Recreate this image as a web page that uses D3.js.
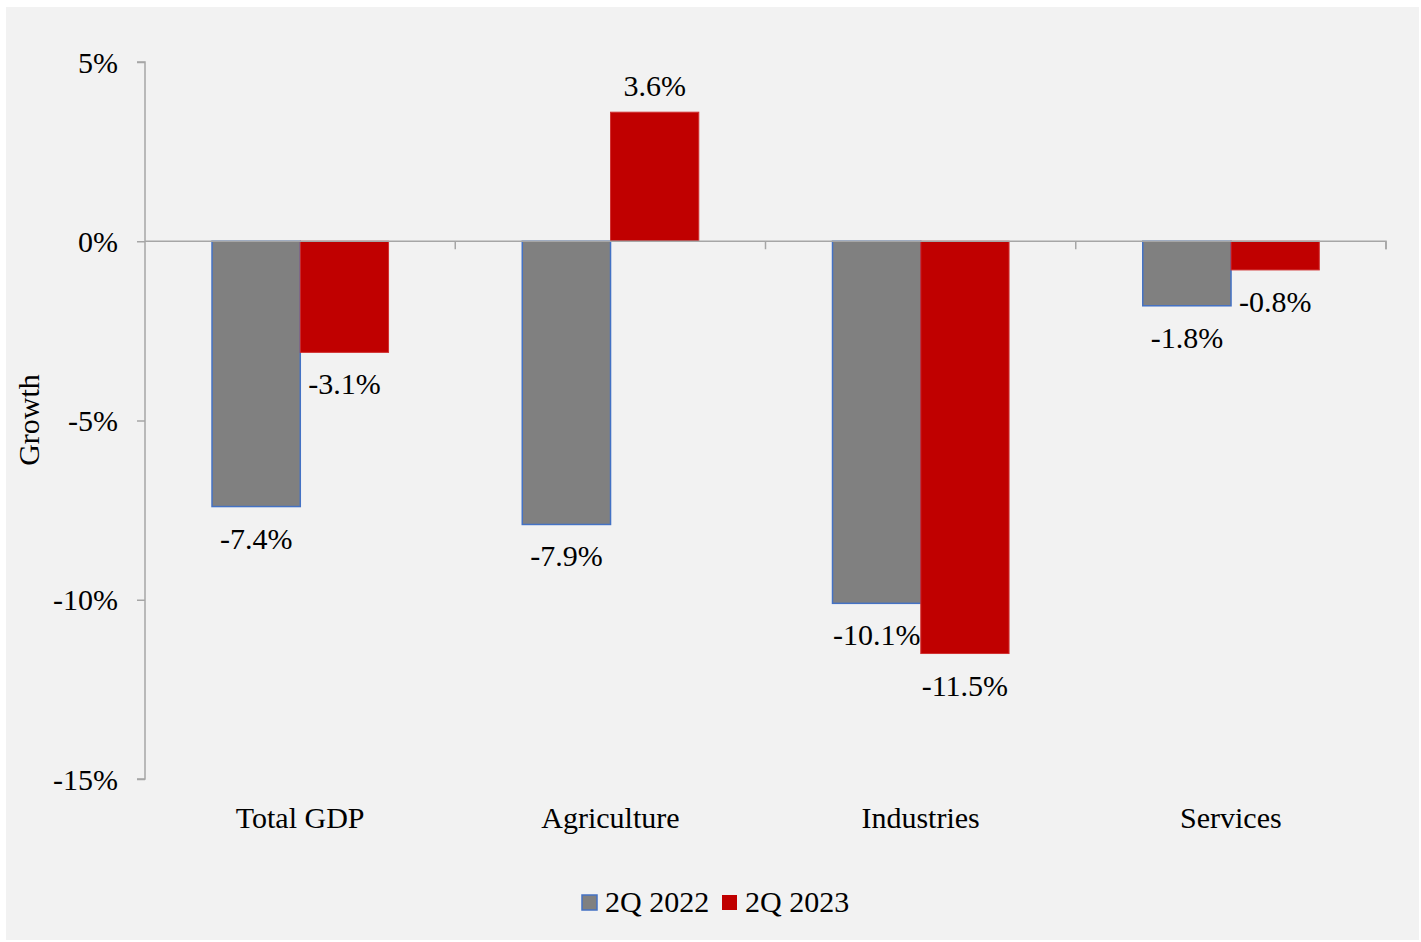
<!DOCTYPE html>
<html>
<head>
<meta charset="utf-8">
<script src="https://cdn.jsdelivr.net/npm/d3@7/dist/d3.min.js"></script>
<style>
  html, body { margin: 0; padding: 0; background: #ffffff; }
  svg { display: block; }
  text { font-family: "Liberation Serif", "Times New Roman", serif; fill: #000; }
</style>
</head>
<body>
<svg id="chart" width="1421" height="942"></svg>
<script>
const categories = ["Total GDP", "Agriculture", "Industries", "Services"];
const seriesNames = ["2Q 2022", "2Q 2023"];
const values2022 = [-7.4, -7.9, -10.1, -1.8];
const values2023 = [-3.1, 3.6, -11.5, -0.8];
const yTicks = [5, 0, -5, -10, -15];
const yTickLabels = ["5%", "0%", "-5%", "-10%", "-15%"];
const yTitle = "Growth";

(function () {
const colors = { "2Q 2022": "#808080", "2Q 2023": "#c00000" };
const strokes = { "2Q 2022": "#4472c4", "2Q 2023": "#d03030" };

const svg = d3.select("#chart");
svg.append("rect").attr("x", 6).attr("y", 7).attr("width", 1413).attr("height", 933).attr("fill", "#f2f2f2");

const pLeft = 145, pRight = 1386, pTop = 62, pBottom = 779;
const y = d3.scaleLinear().domain([5, -15]).range([pTop, pBottom]);
const x0 = d3.scaleBand().domain(categories).range([pLeft, pRight]).paddingInner(0).paddingOuter(0);
const bw = x0.bandwidth();
const x1 = d3.scaleBand().domain(seriesNames).range([bw * 0.216, bw * 0.785]).padding(0);

const data = categories.map((c, i) => ({
  cat: c,
  vals: [
    { s: seriesNames[0], v: values2022[i] },
    { s: seriesNames[1], v: values2023[i] }
  ]
}));

const axisColor = "#a6a6a6";
const fs = 30;

// Y axis
const yAxis = d3.axisLeft(y).tickValues(yTicks).tickSize(8).tickFormat((d, i) => yTickLabels[i]);
const gy = svg.append("g").attr("transform", `translate(${pLeft},0)`).call(yAxis);
gy.select(".domain").attr("stroke", axisColor).attr("stroke-width", 1.5).attr("d", `M-8,${pTop}H0V${pBottom}H-8`);
gy.selectAll(".tick line").attr("stroke", axisColor).attr("stroke-width", 1.5);
gy.selectAll(".tick text").attr("x", -27).attr("dy", "0.34em").style("font-size", fs + "px").style("font-family", "Liberation Serif, serif").attr("fill", "#000");

// Groups / bars
const g = svg.append("g");
const groups = g.selectAll("g.cat").data(data).join("g")
  .attr("transform", d => `translate(${x0(d.cat)},0)`);

groups.selectAll("rect").data(d => d.vals).join("rect")
  .attr("x", d => x1(d.s))
  .attr("width", x1.bandwidth())
  .attr("y", d => y(Math.max(0, d.v)))
  .attr("height", d => Math.abs(y(d.v) - y(0)))
  .attr("fill", d => colors[d.s])
  .attr("stroke", d => strokes[d.s])
  .attr("stroke-width", d => d.s === seriesNames[0] ? 1.5 : 1);

// X axis line with tick marks at band boundaries
const y0 = y(0);
const xAxis = d3.axisBottom(x0).tickSize(0).tickFormat("");
const gx = svg.append("g").attr("transform", `translate(0,${y0})`).call(xAxis);
gx.select(".domain").attr("stroke", axisColor).attr("stroke-width", 1.5).attr("d", `M${pLeft},0H${pRight}V8`);
gx.selectAll(".tick").remove();
const boundaries = categories.map(c => x0(c) + bw);
gx.selectAll("line.sep").data(boundaries).join("line")
  .attr("class", "sep")
  .attr("x1", d => d).attr("x2", d => d).attr("y1", 0).attr("y2", 8)
  .attr("stroke", axisColor).attr("stroke-width", 1.5);

// Category labels
svg.append("g").selectAll("text").data(categories).join("text")
  .attr("x", d => x0(d) + bw / 2)
  .attr("y", 828)
  .attr("text-anchor", "middle")
  .style("font-size", fs + "px")
  .text(d => d);

// Value labels
groups.selectAll("text.val").data(d => d.vals).join("text")
  .attr("class", "val")
  .attr("x", d => x1(d.s) + x1.bandwidth() / 2)
  .attr("y", d => d.v >= 0 ? y(d.v) - 16 : y(d.v) + 42)
  .attr("text-anchor", "middle")
  .style("font-size", fs + "px")
  .text(d => d.v.toFixed(1) + "%");

// Y title
svg.append("text")
  .attr("transform", `translate(39,420) rotate(-90)`)
  .attr("text-anchor", "middle")
  .style("font-size", fs + "px")
  .text(yTitle);

// Legend
const legend = svg.append("g");
const legendX = [582, 722];
seriesNames.forEach((s, i) => {
  legend.append("rect")
    .attr("x", legendX[i]).attr("y", 895)
    .attr("width", 15).attr("height", 15)
    .attr("fill", colors[s])
    .attr("stroke", i === 0 ? strokes[s] : "none")
    .attr("stroke-width", 1.5);
  legend.append("text")
    .attr("x", legendX[i] + 23).attr("y", 912)
    .style("font-size", fs + "px")
    .text(s);
});
})();
</script>
</body>
</html>
